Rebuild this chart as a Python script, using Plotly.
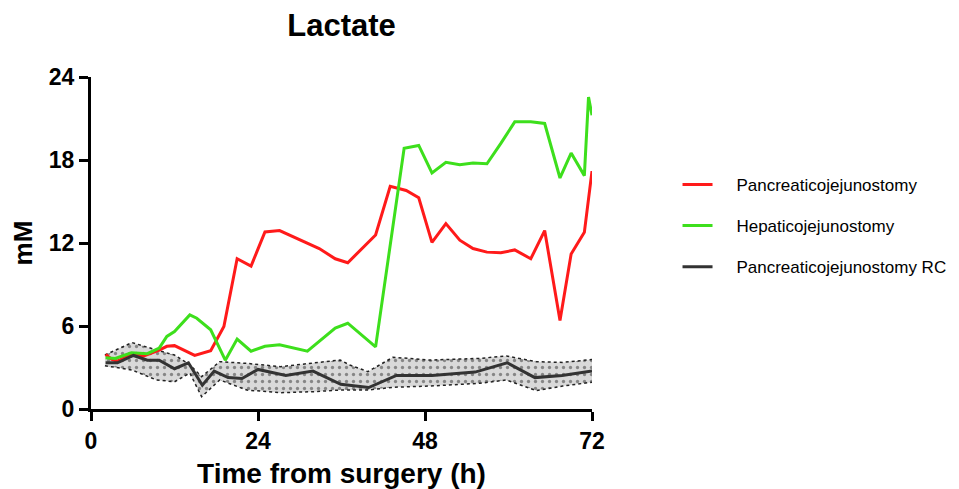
import plotly.graph_objects as go

# ---- data ----
pj_x = [2.1, 3.0, 3.8, 6.1, 7.5, 9.8, 10.9, 12.0, 14.9, 17.2, 19.1, 21.0, 23.0, 25.0, 27.1,
        32.8, 35.1, 36.9, 40.9, 43.0, 45.3, 47.1, 49.0, 51.0, 53.0, 54.9, 56.9, 58.9, 60.9,
        63.2, 65.2, 67.4, 69.0, 70.9, 72.0]
pj_y = [3.94, 3.58, 3.46, 4.0, 3.82, 4.25, 4.53, 4.58, 3.87, 4.22, 5.97, 10.86, 10.33, 12.8, 12.9,
        11.6, 10.86, 10.57, 12.58, 16.1, 15.8, 15.27, 12.05, 13.4, 12.2, 11.6, 11.34, 11.29, 11.5,
        10.86, 12.9, 6.4, 11.2, 12.77, 17.2]

hj_x = [2.1, 3.5, 5.8, 8.1, 9.8, 10.9, 12.0, 14.2, 15.2, 17.2, 19.3, 21.0, 23.0, 25.0, 27.1,
        31.1, 35.1, 36.9, 40.9, 45.0, 47.1, 49.0, 51.0, 53.0, 54.9, 56.9, 58.9, 60.9, 63.2,
        65.2, 67.4, 69.0, 70.9, 71.5, 72.0]
hj_y = [3.7, 3.65, 4.06, 4.0, 4.4, 5.25, 5.6, 6.8, 6.56, 5.73, 3.53, 5.06, 4.18, 4.53, 4.65,
        4.18, 5.85, 6.2, 4.49, 18.85, 19.05, 17.06, 17.83, 17.66, 17.78, 17.73, 19.2, 20.76, 20.76,
        20.64, 16.7, 18.5, 16.87, 22.55, 21.24]

rc_x = [2.1, 3.8, 6.1, 8.1, 9.8, 12.0, 14.0, 16.0, 17.7, 19.7, 21.7, 24.0, 28.0, 31.9, 35.9,
        39.9, 43.9, 49.0, 55.2, 59.8, 63.8, 67.7, 72.0]
rc_y = [3.34, 3.34, 3.87, 3.53, 3.53, 2.91, 3.34, 1.72, 2.74, 2.27, 2.2, 2.86, 2.43, 2.74, 1.79,
        1.55, 2.43, 2.43, 2.67, 3.34, 2.27, 2.43, 2.74]

band_x = [2.0, 5.9, 9.4, 12.0, 14.2, 15.9, 18.5, 22.4, 27.2, 31.9, 35.8, 37.2, 39.8, 43.4,
          48.7, 55.9, 59.7, 64.0, 67.8, 72.5]
band_upper = [3.9, 4.8, 4.27, 3.9, 3.2, 2.34, 3.42, 3.3, 3.06, 3.3, 3.54, 3.18, 2.7, 3.74,
              3.54, 3.66, 3.83, 3.42, 3.37, 3.6]
band_lower = [3.13, 2.82, 2.1, 1.97, 2.6, 0.89, 2.1, 1.37, 1.18, 1.25, 1.37, 1.37, 1.37, 1.57,
              1.66, 1.86, 2.1, 1.33, 1.66, 1.97]

series_names = ["Pancreaticojejunostomy", "Hepaticojejunostomy", "Pancreaticojejunostomy RC"]

x_ticks = [0, 24, 48, 72]
y_ticks = [0, 6, 12, 18, 24]

FONT = "Liberation Sans, Arial, sans-serif"
PAD = "\u00a0" * 4

fig = go.Figure()

# RC band
fig.add_trace(go.Scatter(x=band_x, y=band_lower, mode="lines",
                         line=dict(color="#222222", width=1.5, dash="dot"),
                         showlegend=False, hoverinfo="skip"))
fig.add_trace(go.Scatter(x=band_x, y=band_upper, mode="lines", fill="tonexty",
                         fillcolor="#d9d9d9",
                         fillpattern=dict(shape=".", fgcolor="#333333", bgcolor="#d9d9d9",
                                          size=7, solidity=0.18),
                         line=dict(color="#222222", width=1.5, dash="dot"),
                         showlegend=False, hoverinfo="skip"))

fig.add_trace(go.Scatter(x=pj_x, y=pj_y, mode="lines", name=PAD + series_names[0],
                         line=dict(color="#ff1a1a", width=3), legendgroup="a"))
fig.add_trace(go.Scatter(x=hj_x, y=hj_y, mode="lines", name=PAD + series_names[1],
                         line=dict(color="#3ddf1c", width=3), legendgroup="b"))
fig.add_trace(go.Scatter(x=rc_x, y=rc_y, mode="lines", name=PAD + series_names[2],
                         line=dict(color="#333333", width=3), legendgroup="c"))

fig.update_layout(
    width=951, height=481,
    margin=dict(l=83, r=367, t=69, b=80, autoexpand=False),
    plot_bgcolor="white", paper_bgcolor="white",
    font=dict(family=FONT, color="black"),
    title=dict(text="<b>Lactate</b>", x=333.5 / 951, xanchor="center",
               y=1 - 17 / 481, yanchor="middle", font=dict(size=31, family=FONT)),
    legend=dict(x=1.1707, y=0.729, xanchor="left", yanchor="top",
                font=dict(size=17, family=FONT), tracegroupgap=16,
                bgcolor="rgba(0,0,0,0)"),
    xaxis=dict(range=[0, 72], tickvals=x_ticks, ticktext=[str(v) for v in x_ticks],
               showgrid=False, zeroline=False, showline=True, linecolor="black", linewidth=3,
               ticks="outside", ticklen=9, tickwidth=3, tickcolor="black", automargin=False,
               tickfont=dict(size=23, family=FONT, weight="bold"),
               title=dict(text="<b>Time from surgery (h)</b>", font=dict(size=28, family=FONT),
                          standoff=23)),
    yaxis=dict(range=[0, 24], tickvals=y_ticks, ticktext=[str(v) for v in y_ticks],
               showgrid=False, zeroline=False, showline=True, linecolor="black", linewidth=3,
               ticks="outside", ticklen=9, tickwidth=3, tickcolor="black", automargin=False,
               tickfont=dict(size=23, family=FONT, weight="bold"),
               title=dict(text="<b>mM</b>", font=dict(size=26, family=FONT), standoff=11)),
)

fig.write_html("out.html")
